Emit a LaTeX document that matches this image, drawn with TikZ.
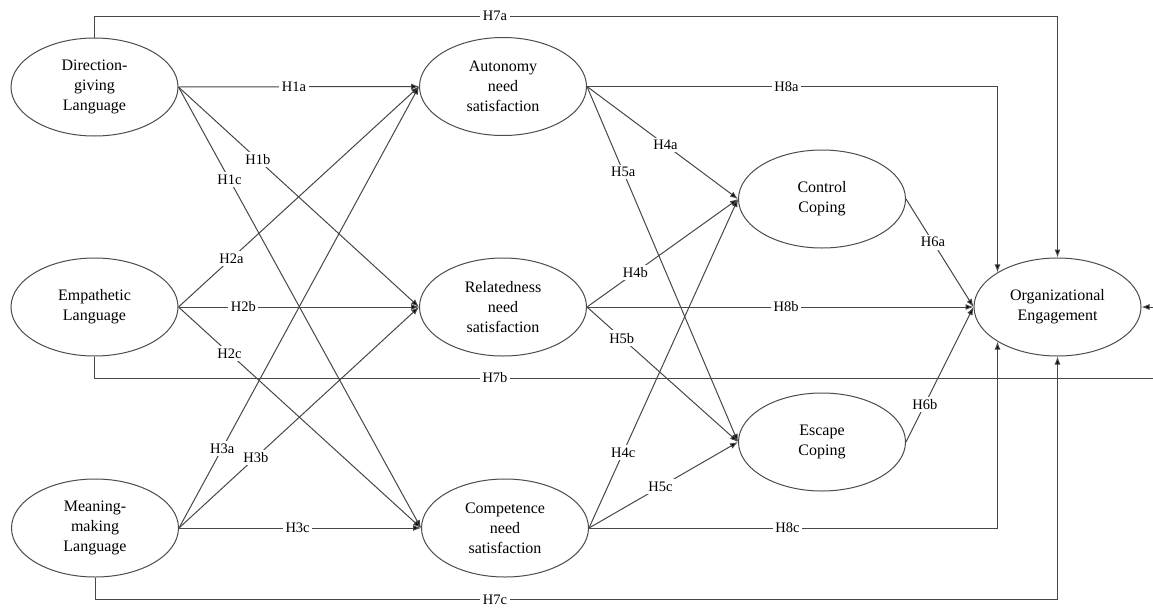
\documentclass[tikz,border=0pt]{standalone}
\usepackage{fontspec}
\setmainfont{Liberation Serif}
\usetikzlibrary{shapes.geometric,arrows.meta}
\begin{document}
\begin{tikzpicture}[x=1pt,y=-1pt,
  var/.style={ellipse,draw=black!70,line width=1pt,minimum width=167pt,minimum height=98pt,inner sep=0pt,align=center,font=\fontsize{16}{20}\selectfont},
  conn/.style={draw=black!72,line width=1pt,-{Latex[length=8pt,width=6pt,fill=black]}},
  lab/.style={fill=white,inner sep=2.5pt,font=\fontsize{14.5}{16}\selectfont}]
\useasboundingbox (0,0) rectangle (1153,608);
\fill[white] (0,0) rectangle (1153,608);

% variables
\node[var] (dir)  at (94.5,87)   {Direction-\\giving\\Language};
\node[var] (emp)  at (94.5,307)  {Empathetic\\Language};
\node[var] (mm)   at (95,528)    {Meaning-\\making\\Language};
\node[var] (aut)  at (503,86.5)  {Autonomy\\need\\satisfaction};
\node[var] (rel)  at (503,307)   {Relatedness\\need\\satisfaction};
\node[var] (comp) at (505,528)   {Competence\\need\\satisfaction};
\node[var] (ctl)  at (822,199)   {Control\\Coping};
\node[var] (esc)  at (822,442)   {Escape\\Coping};
\node[var] (oe)   at (1057.5,307) {Organizational\\Engagement};

\coordinate (top) at (0,16);
\coordinate (rb)  at (1162,378);
\coordinate (bot) at (0,599);

% long paths H7
\draw[conn] (dir.north) -- (dir.north |- top) -| (oe.north);
\draw[conn] (emp.south) |- (rb) |- (oe.east);
\draw[conn] (mm.south) -- (mm.south |- bot) -| (oe.south);

% H1
\draw[conn] (dir.east) -- (aut.west)  node[lab,pos=0.48] (l1a) {H1a};
\draw[conn] (dir.east) -- (rel.west)  node[lab,pos=0.33] (l1b) {H1b};
\draw[conn] (dir.east) -- (comp.west) node[lab,pos=0.21] (l1c) {H1c};
% H2
\draw[conn] (emp.east) -- (aut.west)  node[lab,pos=0.22] (l2a) {H2a};
\draw[conn] (emp.east) -- (rel.west)  node[lab,pos=0.27] (l2b) {H2b};
\draw[conn] (emp.east) -- (comp.west) node[lab,pos=0.21] (l2c) {H2c};
% H3
\draw[conn] (mm.east) -- (aut.west)  node[lab,pos=0.18] (l3a) {H3a};
\draw[conn] (mm.east) -- (rel.west)  node[lab,pos=0.32] (l3b) {H3b};
\draw[conn] (mm.east) -- (comp.west) node[lab,pos=0.49] (l3c) {H3c};
% H4 / H5
\draw[conn] (aut.east) -- (ctl.west)  node[lab,pos=0.52] (l4a) {H4a};
\draw[conn] (aut.east) -- (esc.west)  node[lab,pos=0.24] (l5a) {H5a};
\draw[conn] (rel.east) -- (ctl.west)  node[lab,pos=0.32] (l4b) {H4b};
\draw[conn] (rel.east) -- (esc.west)  node[lab,pos=0.23] (l5b) {H5b};
\draw[conn] (comp.east) -- (ctl.west) node[lab,pos=0.23] (l4c) {H4c};
\draw[conn] (comp.east) -- (esc.west) node[lab,pos=0.48] (l5c) {H5c};
% H6
\draw[conn] (ctl.east) -- (oe.west) node[lab,pos=0.40] (l6a) {H6a};
\draw[conn] (esc.east) -- (oe.west) node[lab,pos=0.28] (l6b) {H6b};
% H8
\draw[conn] (aut.east) -| (oe.150)  node[lab,pos=0.243] (l8a) {H8a};
\draw[conn] (rel.east) -- (oe.west) node[lab,pos=0.515] (l8b) {H8b};
\draw[conn] (comp.east) -| (oe.210) node[lab,pos=0.243] (l8c) {H8c};

% H7 labels
\node[lab] (l7a) at (495,16)  {H7a};
\node[lab] (l7b) at (495,378) {H7b};
\node[lab] (l7c) at (495,600) {H7c};
\end{tikzpicture}
\end{document}
